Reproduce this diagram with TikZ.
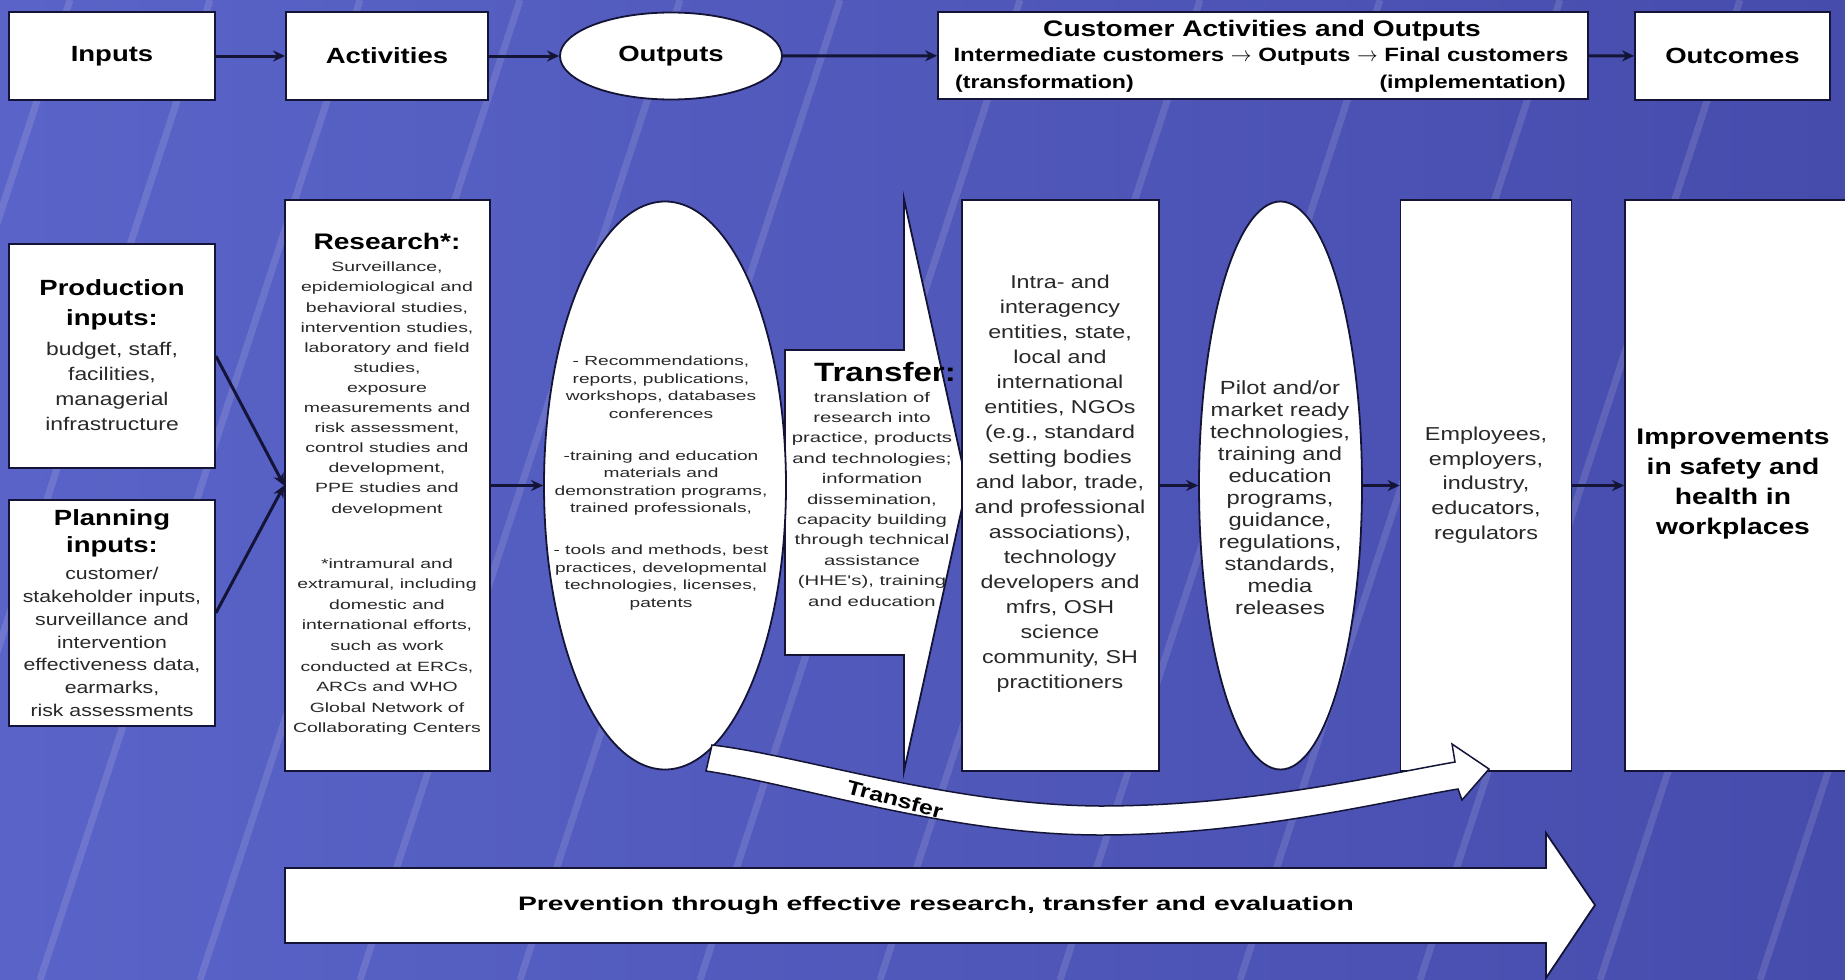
\documentclass[tikz,border=0pt]{standalone}
\usepackage{fontspec}
\setmainfont{Liberation Sans}[FakeStretch=1.25]
\newfontfamily\widefont{Liberation Sans}[FakeStretch=1.45]
\usetikzlibrary{arrows.meta,shapes.geometric}
\definecolor{bgblue}{RGB}{70,76,172}
\definecolor{bgleft}{RGB}{90,100,200}
\definecolor{navy}{RGB}{20,20,55}
\definecolor{bodytxt}{RGB}{40,40,40}
\newcommand\setfs[2]{\fontsize{#1}{#2}\selectfont}
\begin{document}
\begin{tikzpicture}[x=1pt,y=-1pt,
 box/.style={draw=navy,line width=1.8pt,fill=white,inner sep=0pt},
 ell/.style={ellipse,draw=navy,line width=1.8pt,fill=white,inner sep=0pt},
 conn/.style={draw=navy,line width=3pt,-{Stealth[length=12pt,width=11pt]}},
 title/.style={font=\bfseries\setfs{22}{26},text=black,align=center,inner sep=0pt},
 body/.style={text=bodytxt,align=center,inner sep=0pt},
 streak/.style={white,opacity=0.12,line width=7pt},
 shapeline/.style={draw=navy,line width=1.8pt,fill=white,line join=miter}]
\useasboundingbox (0,0) rectangle (1845,980);
\shade[left color=bgleft,right color=bgblue] (0,0) rectangle (1845,980);
\begin{scope}
\clip (0,0) rectangle (1845,980);
\foreach \sx in {-250,-110,40,200,360,520,700,880,1060,1240,1420,1600,1760}
  \draw[streak] (\sx,980) -- ++(320,-980);
\end{scope}

% ---------- top row
\node[box,title,minimum width=206pt,minimum height=88pt] (inputs) at (112,56) {Inputs};
\node[box,title,minimum width=202pt,minimum height=88pt] (activities) at (387,56) {Activities};
\node[ell,title,minimum width=222pt,minimum height=87pt] (outputs) at (671,56) {Outputs};
\node[box,minimum width=650pt,minimum height=87pt] (customer) at (1263,55.5) {};
\node[box,title,minimum width=195pt,minimum height=88pt] (outcomes) at (1732.5,56) {Outcomes};
\node[title,font=\bfseries\setfs{22.5}{26}] (custT) at (1262,31) {Customer Activities and Outputs};
\node[title,font=\bfseries\setfs{19.2}{22}] (custS) at (1261,57) {Intermediate customers $\rightarrow$ Outputs $\rightarrow$ Final customers};
\node[title,font=\bfseries\setfs{18.5}{22},anchor=west] (custL) at (955,84) {(transformation)};
\node[title,font=\bfseries\setfs{18.5}{22},anchor=east] (custR) at (1566,84) {(implementation)};
\draw[conn] (inputs) -- (activities);
\draw[conn] (activities) -- (outputs);
\draw[conn] (outputs) -- (customer);
\draw[conn] (customer) -- (outcomes);

% ---------- second row shapes
\draw[shapeline] (785,350) -- (904,350) -- (904,199) -- (967,485) -- (904,771) -- (904,655) -- (785,655) -- cycle;
\coordinate (transtip) at (967,485);
\node[box,minimum width=206pt,minimum height=224pt] (prod) at (112,356) {};
\node[box,minimum width=206pt,minimum height=226pt] (plan) at (112,613) {};
\node[box,minimum width=205pt,minimum height=571pt] (research) at (387.5,485.5) {};
\node[ell,minimum width=242pt,minimum height=568pt] (outell) at (665,485.5) {};
\node[box,minimum width=197pt,minimum height=571pt] (intra) at (1060.5,485.5) {};
\node[ell,minimum width=163pt,minimum height=568pt] (pilot) at (1280.5,485.5) {};
\node[box,minimum width=171pt,minimum height=571pt] (emp) at (1486,485.5) {};
\node[box,minimum width=228pt,minimum height=571pt] (imp) at (1739,485.5) {};

% ---------- texts
\node[title,font=\bfseries\setfs{22}{30}] (prodT) at (112,305) {Production\\inputs:};
\node[body,font=\setfs{18.3}{25}] (prodB) at (112,386) {budget, staff,\\facilities,\\managerial\\infrastructure};
\node[title,font=\bfseries\setfs{22}{27}] (planT) at (112,533) {Planning\\inputs:};
\node[body,font=\setfs{17}{22.7}] (planB) at (112,642) {customer/\\stakeholder inputs,\\surveillance and\\intervention\\effectiveness data,\\earmarks,\\risk assessments};
\node[title,font=\bfseries\setfs{22.5}{26}] (resT) at (387,241) {Research*:};
\node[body,font=\widefont\setfs{13.4}{20.1}] (resA) at (387,389) {Surveillance,\\epidemiological and\\behavioral studies,\\intervention studies,\\laboratory and field\\studies,\\exposure\\measurements and\\risk assessment,\\control studies and\\development,\\PPE studies and\\development};
\node[body,font=\widefont\setfs{13.4}{20.6}] (resB) at (387,647) {*intramural and\\extramural, including\\domestic and\\international efforts,\\such as work\\conducted at ERCs,\\ARCs and WHO\\Global Network of\\Collaborating Centers};
\node[body,font=\widefont\setfs{13.2}{17.6}] (outB) at (661,483) {- Recommendations,\\reports, publications,\\workshops, databases\\conferences\\[24pt]-training and education\\materials and\\demonstration programs,\\trained professionals,\\[24pt]- tools and methods, best\\practices, developmental\\technologies, licenses,\\patents};
\node[title,font=\bfseries\setfs{26.5}{30}] (transT) at (885,372) {Transfer:};
\node[body,font=\widefont\setfs{14}{20.4}] (transB) at (872,499) {translation of\\research into\\practice, products\\and technologies;\\information\\dissemination,\\capacity building\\through technical\\assistance\\(HHE's), training\\and education};
\node[body,font=\setfs{18.6}{25}] (intraB) at (1060,484) {Intra- and\\interagency\\entities, state,\\local and\\international\\entities, NGOs\\(e.g., standard\\setting bodies\\and labor, trade,\\and professional\\associations),\\technology\\developers and\\mfrs, OSH\\science\\community, SH\\practitioners};
\node[body,font=\setfs{19}{22}] (pilotB) at (1280,498) {Pilot and/or\\market ready\\technologies,\\training and\\education\\programs,\\guidance,\\regulations,\\standards,\\media\\releases};
\node[body,font=\setfs{18.7}{24.7}] (empB) at (1486,485) {Employees,\\employers,\\industry,\\educators,\\regulators};
\node[title,font=\bfseries\setfs{22.6}{30}] (impB) at (1733,484) {Improvements\\in safety and\\health in\\workplaces};

% ---------- second row connectors
\draw[conn] (prod.east) -- (research.west);
\draw[conn] (plan.east) -- (research.west);
\draw[conn] (research.east) -- (outell.west);
\draw[conn] (intra.east) -- (pilot.west);
\draw[conn] (pilot.east) -- (emp.west);
\draw[conn] (emp.east) -- (imp.west);

% ---------- curved transfer band
\draw[shapeline,line width=1.5pt]
 (712,745) .. controls (800,755) and (950,805) .. (1100,806)
 .. controls (1250,806) and (1380,775) .. (1455,762)
 -- (1452,744) -- (1489,769) -- (1462,800) -- (1458,789)
 .. controls (1380,802) and (1250,835) .. (1100,835)
 .. controls (950,835) and (800,785) .. (706,771) -- cycle;
\node[title,font=\bfseries\setfs{20}{24},rotate=-15] (bandT) at (895,799) {Transfer};

% ---------- bottom arrow
\draw[shapeline] (285,868) -- (1546,868) -- (1546,833) -- (1595,905) -- (1546,978) -- (1546,943) -- (285,943) -- cycle;
\node[title,font=\widefont\bfseries\setfs{19.5}{24}] (prevT) at (936,905) {Prevention through effective research, transfer and evaluation};
\end{tikzpicture}
\end{document}
